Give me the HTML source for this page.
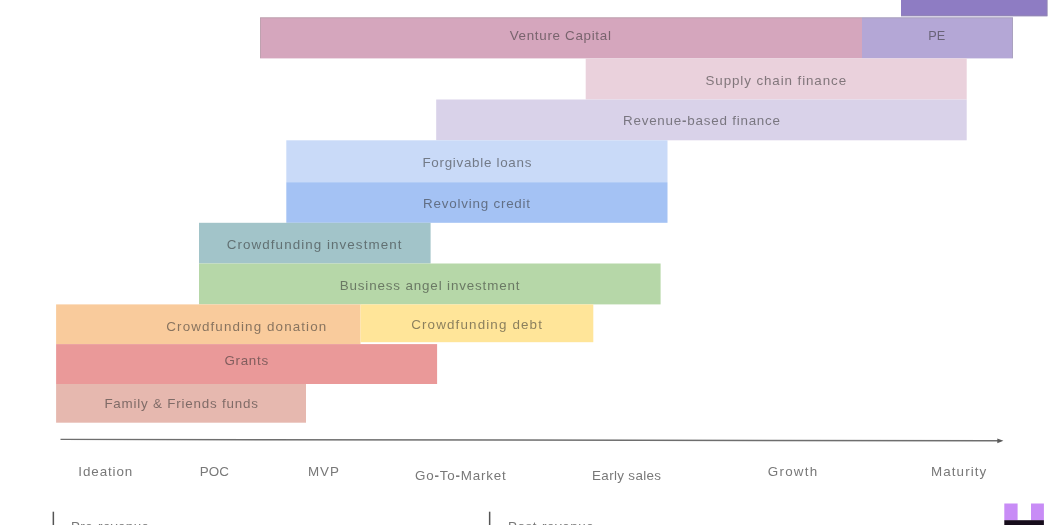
<!DOCTYPE html>
<html lang="en"><head><meta charset="utf-8"><title>Funding by stage</title>
<style>
html,body{margin:0;padding:0;background:#fff;}
body{width:1050px;height:525px;overflow:hidden;}
svg{display:block;}
text{font-family:"Liberation Sans",sans-serif;font-size:13.4px;}
.b{fill:#2e2e2e;fill-opacity:.56}
.a{fill:#787878}
.h{font-weight:bold}
</style></head><body>
<svg width="1050" height="525" viewBox="0 0 1050 525">
<rect width="1050" height="525" fill="#fff"/>
<rect x="901" y="0" width="146.5" height="16.3" fill="#8E7CC3"/>
<rect x="260" y="17.3" width="602.0" height="41.1" fill="#D5A6BD"/>
<rect x="862" y="17.3" width="151.0" height="41.1" fill="#B4A7D6"/>
<rect x="585.7" y="58.4" width="381.0" height="41.1" fill="#EAD1DC"/>
<rect x="436.2" y="99.5" width="530.5" height="40.8" fill="#D9D2E9"/>
<rect x="286.3" y="140.3" width="381.2" height="41.9" fill="#C9DAF8"/>
<rect x="286.3" y="182.2" width="381.2" height="40.6" fill="#A4C2F4"/>
<rect x="199" y="222.8" width="231.6" height="40.7" fill="#A2C4C9"/>
<rect x="199" y="263.5" width="461.6" height="40.9" fill="#B6D7A8"/>
<rect x="56.1" y="304.4" width="304.4" height="39.7" fill="#F9CB9C"/>
<rect x="360.5" y="304.4" width="232.8" height="37.8" fill="#FFE599"/>
<rect x="56.1" y="344.1" width="381.0" height="39.9" fill="#EA9999"/>
<rect x="56.1" y="384" width="249.9" height="38.7" fill="#E6B8AF"/>
<g fill="none" stroke="#9a9a9a" stroke-opacity=".38" stroke-width="1">
<path d="M260.5 58V17.8H1012.5V58"/>
<path d="M1047.2 0V15.8H901"/>
</g>
<defs><filter id="s" x="-5%" y="-50%" width="110%" height="200%"><feGaussianBlur stdDeviation="0.35"/></filter></defs>
<g filter="url(#s)">
<text class="b" x="509.7" y="39.8" textLength="101.2" lengthAdjust="spacing">Venture Capital</text>
<text class="b" x="928.2" y="40.0" textLength="17.0" lengthAdjust="spacingAndGlyphs">PE</text>
<text class="b" x="705.5" y="85.3" textLength="140.6" lengthAdjust="spacing">Supply chain finance</text>
<text class="b" x="623.0" y="125.3" textLength="157.0" lengthAdjust="spacing">Revenue<tspan class="h">-</tspan>based finance</text>
<text class="b" x="422.4" y="166.5" textLength="109.0" lengthAdjust="spacing">Forgivable loans</text>
<text class="b" x="423.0" y="208.0" textLength="107.1" lengthAdjust="spacing">Revolving credit</text>
<text class="b" x="226.8" y="249.0" textLength="174.6" lengthAdjust="spacing">Crowdfunding investment</text>
<text class="b" x="339.7" y="289.9" textLength="179.8" lengthAdjust="spacing">Business angel investment</text>
<text class="b" x="166.3" y="330.6" textLength="159.9" lengthAdjust="spacing">Crowdfunding donation</text>
<text class="b" x="411.2" y="329.0" textLength="130.7" lengthAdjust="spacing">Crowdfunding debt</text>
<text class="b" x="224.4" y="365.0" textLength="43.7" lengthAdjust="spacing">Grants</text>
<text class="b" x="104.4" y="408.4" textLength="153.6" lengthAdjust="spacing">Family &amp; Friends funds</text>
<text class="a" x="78.3" y="476" textLength="54.0" lengthAdjust="spacing">Ideation</text>
<text class="a" x="199.7" y="475.9" textLength="29.3" lengthAdjust="spacing">POC</text>
<text class="a" x="307.9" y="475.9" textLength="31.1" lengthAdjust="spacing">MVP</text>
<text class="a" x="414.9" y="480.2" textLength="90.9" lengthAdjust="spacing">Go<tspan class="h">-</tspan>To<tspan class="h">-</tspan>Market</text>
<text class="a" x="592.1" y="480.2" textLength="68.9" lengthAdjust="spacing">Early sales</text>
<text class="a" x="767.8" y="476" textLength="49.3" lengthAdjust="spacing">Growth</text>
<text class="a" x="931.1" y="476" textLength="55.1" lengthAdjust="spacing">Maturity</text>
</g>
<line x1="60.5" y1="439.4" x2="998" y2="440.8" stroke="#6e6e6e" stroke-width="1.4"/>
<polygon points="997.3,438.4 1003.4,440.8 997.3,443.2" fill="#5a5a5a"/>
<rect x="52.6" y="511.7" width="1.5" height="14" fill="#555"/>
<rect x="488.9" y="511.7" width="1.5" height="14" fill="#555"/>
<text class="a" x="71" y="531.3" textLength="78" lengthAdjust="spacing">Pre-revenue</text>
<text class="a" x="508.1" y="531.3" textLength="85.7" lengthAdjust="spacing">Post-revenue</text>
<rect x="1004.3" y="503.5" width="13.3" height="17" fill="#C88CF6"/>
<rect x="1031" y="503.5" width="12.9" height="17" fill="#C88CF6"/>
<rect x="1004.3" y="520.2" width="39.6" height="5" fill="#170d1c"/>
</svg></body></html>
